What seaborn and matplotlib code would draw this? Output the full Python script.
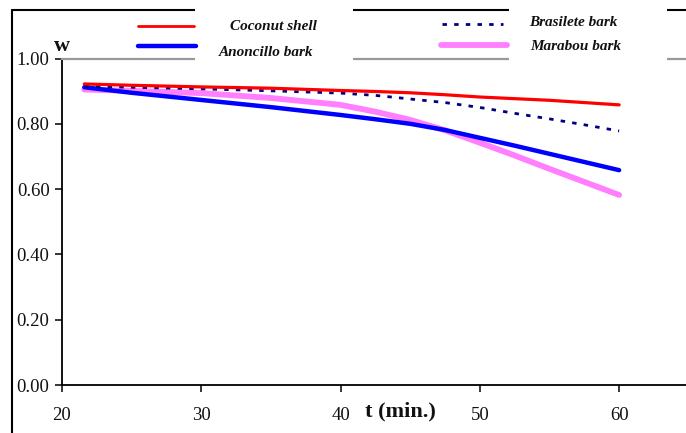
import numpy as np
import pandas as pd
import matplotlib
matplotlib.use("Agg")
import matplotlib.pyplot as plt
import seaborn as sns
from matplotlib.lines import Line2D
from matplotlib.patches import Rectangle

# ---- data ----
t = [21.6, 25, 30, 35, 40, 42.5, 45, 47.5, 50, 52.5, 55, 57.5, 60]
coconut = [0.922, 0.918, 0.913, 0.909, 0.902, 0.899, 0.895, 0.889, 0.882, 0.877, 0.872, 0.865, 0.858]
brasilete = [0.915, 0.912, 0.907, 0.901, 0.894, 0.887, 0.876, 0.865, 0.850, 0.832, 0.815, 0.797, 0.778]
anoncillo = [0.912, 0.895, 0.873, 0.851, 0.827, 0.814, 0.800, 0.781, 0.757, 0.733, 0.708, 0.683, 0.658]
marabou = [0.905, 0.901, 0.894, 0.879, 0.858, 0.837, 0.812, 0.780, 0.742, 0.703, 0.662, 0.622, 0.582]
yticks = [0.0, 0.2, 0.4, 0.6, 0.8, 1.0]
xticks = [20, 30, 40, 50, 60]

sns.set_style("white")
plt.rcParams['font.family'] = ['Liberation Serif', 'DejaVu Serif']

W, H = 686, 433
fig = plt.figure(figsize=(W / 100, H / 100), dpi=100)

def fx(x):
    return x / W

def fy(y):
    return 1 - y / H

ax = fig.add_axes([fx(62), fy(385), fx(686) - fx(62), fy(58.5) - fy(385)])

styles = [
    (marabou, dict(color="#ff7fff", lw=4.2)),
    (anoncillo, dict(color="#0000ff", lw=3.2)),
    (brasilete, dict(color="#000080", lw=2.0, dashes=(1.6, 2.6))),
    (coconut, dict(color="#ff0000", lw=2.3)),
]
for vals, kw in styles:
    d = pd.DataFrame({"t": t, "w": vals})
    dash = kw.pop("dashes", None)
    sns.lineplot(data=d, x="t", y="w", ax=ax, **kw)
    if dash is not None:
        ax.lines[-1].set_dashes(dash)

ax.set_xlim(20, 64.8)
ax.set_ylim(0, 1.0)
ax.set_xticks(xticks)
ax.set_yticks(yticks)
ax.set_yticklabels([f"{v:.2f}" for v in yticks])
ax.set_xlabel("")
ax.set_ylabel("")
ax.spines["right"].set_visible(False)
ax.spines["top"].set_color("#999999")
ax.spines["top"].set_linewidth(1.6)
ax.spines["left"].set_color("black")
ax.spines["bottom"].set_color("black")
ax.spines["left"].set_linewidth(1.3)
ax.spines["bottom"].set_linewidth(1.3)
ax.tick_params(axis="both", direction="out", length=5, width=1.1, color="black",
               labelsize=13.5, labelcolor="#111111", bottom=True, left=True,
               top=False, right=False)
ax.tick_params(axis="x", pad=11)
ax.tick_params(axis="y", pad=4)
ax.grid(False)

# outer frame
fig.add_artist(Line2D([fx(12), fx(12)], [fy(10), 0], transform=fig.transFigure,
                      color="black", lw=1.5))
fig.add_artist(Line2D([fx(12), 1], [fy(10), fy(10)], transform=fig.transFigure,
                      color="black", lw=1.5))

# white legend boxes
for x0, x1 in [(195, 353), (509, 667)]:
    fig.add_artist(Rectangle((fx(x0), fy(62)), fx(x1) - fx(x0), fy(6) - fy(62),
                             transform=fig.transFigure, facecolor="white",
                             edgecolor="none", zorder=5))

# legend samples
leg = [
    ("Coconut shell", (138, 194), 26, dict(color="#ff0000", lw=2.0), (273, 27)),
    ("Anoncillo bark", (138, 196), 46, dict(color="#0000ff", lw=3.2), (266, 52)),
    ("Brasilete bark", (442, 503), 24, dict(color="#000080", lw=2.0, dashes=(1.6, 2.6)), (573, 22)),
    ("Marabou bark", (441, 507), 45, dict(color="#ff7fff", lw=4.2), (576, 46)),
]
for label, (x0, x1), y, kw, (tx, ty) in leg:
    kw = dict(kw)
    dash = kw.pop("dashes", None)
    ln = Line2D([fx(x0), fx(x1)], [fy(y), fy(y)], transform=fig.transFigure, zorder=6, **kw)
    if dash is not None:
        ln.set_dashes(dash)
    fig.add_artist(ln)
    fig.text(fx(tx), fy(ty), label, ha="center", va="center", fontsize=11,
             fontweight="bold", fontstyle="italic", color="#111111", zorder=7)

fig.text(fx(62), fy(46), "w", ha="center", va="center", fontsize=16,
         fontweight="bold", color="#111111")
fig.text(fx(400), fy(411), "t (min.)", ha="center", va="center", fontsize=16,
         fontweight="bold", color="#111111")

fig.savefig("out.png", dpi=100)
